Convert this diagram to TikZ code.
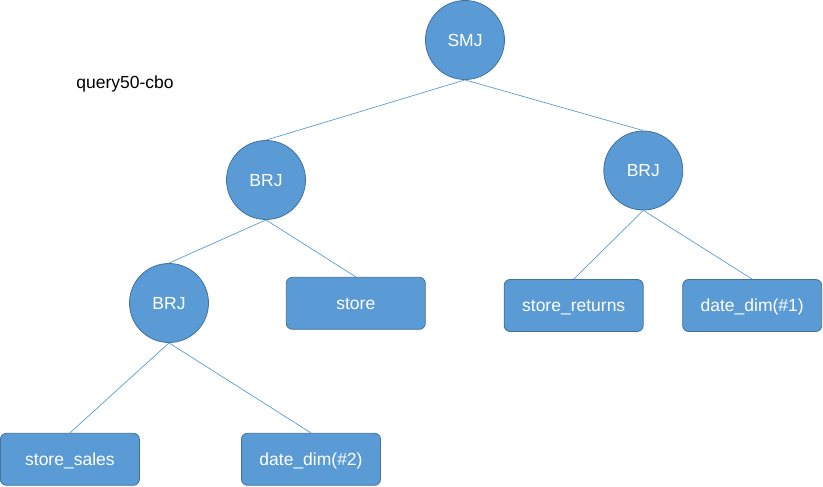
\documentclass[tikz,border=0pt]{standalone}
\usepackage{fontspec}
\setmainfont{Liberation Sans}
\definecolor{nodefill}{RGB}{91,155,213}
\definecolor{nodeedge}{RGB}{65,113,156}
\definecolor{linkcol}{RGB}{91,155,213}
\tikzset{
  opnode/.style={circle, fill=nodefill, draw=nodeedge, line width=0.8pt, minimum size=79pt, inner sep=0pt,
    text=white, font=\fontsize{17.5}{20}\selectfont, text height=12.5pt, text depth=0pt},
  tablebox/.style={rectangle, rounded corners=6pt, fill=nodefill, draw=nodeedge, line width=0.8pt,
    minimum width=139pt, minimum height=52pt, inner sep=0pt,
    text=white, font=\fontsize{17.5}{20}\selectfont, text height=12.5pt, text depth=0pt},
  link/.style={draw=linkcol, line width=0.7pt}
}
\begin{document}
\begin{tikzpicture}[x=1pt,y=-1pt]
\useasboundingbox (0,0) rectangle (823,487);
\node[font=\fontsize{17.5}{20}\selectfont, text height=12.5pt, text depth=0pt, inner sep=0pt] (title) at (125,82) {query50-cbo};
\node[opnode] (smj) at (465,40) {SMJ};
\node[opnode] (brjl) at (266,180) {BRJ};
\node[opnode] (brjr) at (643.3,170.5) {BRJ};
\node[opnode] (brjb) at (169,303) {BRJ};
\node[tablebox] (store) at (355.8,303.3) {store};
\node[tablebox] (sret) at (573.7,305.5) {store\_returns};
\node[tablebox] (dd1) at (752.2,305.5) {date\_dim(\#1)};
\node[tablebox] (ssales) at (69.9,459.3) {store\_sales};
\node[tablebox] (dd2) at (311,459.3) {date\_dim(\#2)};
\draw[link] (smj.south) -- (brjl.north);
\draw[link] (smj.south) -- (brjr.north);
\draw[link] (brjl.south) -- (brjb.north);
\draw[link] (brjl.south) -- (store.north);
\draw[link] (brjr.south) -- (sret.north);
\draw[link] (brjr.south) -- (dd1.north);
\draw[link] (brjb.south) -- (ssales.north);
\draw[link] (brjb.south) -- (dd2.north);
\end{tikzpicture}
\end{document}
